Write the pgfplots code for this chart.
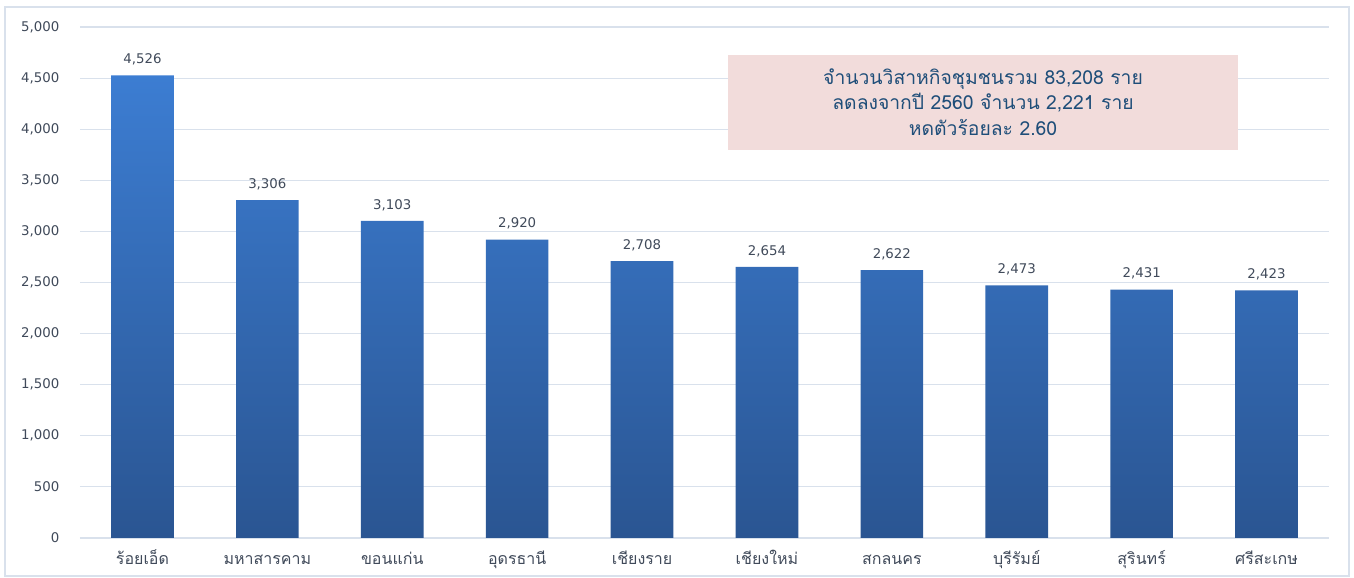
\documentclass[border=0pt]{standalone}
\usepackage{pgfplots}
\pgfplotsset{compat=1.18}
\usepackage{fontspec}
\setmainfont{DejaVu Sans}
\newfontfamily\thaifont[Script=Thai]{Loma}
\definecolor{txt}{HTML}{404A5A}
\definecolor{gridc}{HTML}{D9E1EC}
\definecolor{bartop}{HTML}{3C7DD2}
\definecolor{barbot}{HTML}{2A5592}
\definecolor{boxfill}{HTML}{F2DCDB}
\definecolor{boxtxt}{HTML}{1F4E79}
\begin{document}
\begin{tikzpicture}
\begin{axis}[
  scale only axis,
  width=936.75pt, height=383.25pt,
  xmin=-0.5, xmax=9.5, ymin=0, ymax=5000,
  xtick={0,...,9},
  xticklabels={{ร้อยเอ็ด},{มหาสารคาม},{ขอนแก่น},{อุดรธานี},{เชียงราย},{เชียงใหม่},{สกลนคร},{บุรีรัมย์},{สุรินทร์},{ศรีสะเกษ}},
  xticklabel style={font=\thaifont\fontsize{12}{12}\selectfont, text=txt, anchor=base, yshift=-20pt},
  ytick={0,500,...,5000},
  yticklabel style={font=\fontsize{10}{11}\selectfont, text=txt, xshift=-12pt},
  /pgf/number format/assume math mode=true,
  /pgf/number format/.cd, 1000 sep={,}, /pgfplots/.cd,
  scaled y ticks=false,
  ymajorgrids, y grid style={draw=gridc, line width=0.8pt},
  major tick length=0pt,
  axis line style={draw=none},
  axis x line*=bottom,
  axis y line*=left,
  x axis line style={draw=gridc, line width=0.8pt},
  clip=false,
]
\addplot[ybar, bar width=47pt, draw=none, top color=bartop, bottom color=barbot,
  nodes near coords, nodes near coords style={font=\fontsize{10}{11}\selectfont, text=txt, yshift=4pt, /pgf/number format/1000 sep={,}, /pgf/number format/assume math mode=true}]
coordinates {(0,4526) (1,3306) (2,3103) (3,2920) (4,2708) (5,2654) (6,2622) (7,2473) (8,2431) (9,2423)};
\node[fill=boxfill, minimum width=382.5pt, minimum height=71.25pt, align=center, text=boxtxt,
  font=\thaifont\fontsize{14.5}{19}\selectfont] at (axis cs:6.73,4266)
  {จำนวนวิสาหกิจชุมชนรวม 83,208 ราย\\ลดลงจากปี 2560 จำนวน 2,221 ราย\\หดตัวร้อยละ 2.60};
\end{axis}
\draw[gridc, line width=0.8pt] (-56.25pt,-28.5pt) rectangle (951.75pt,398.25pt);
\pgfresetboundingbox
\path[use as bounding box] (-60pt,-30pt) rectangle (955.5pt,403.5pt);
\end{tikzpicture}
\end{document}
